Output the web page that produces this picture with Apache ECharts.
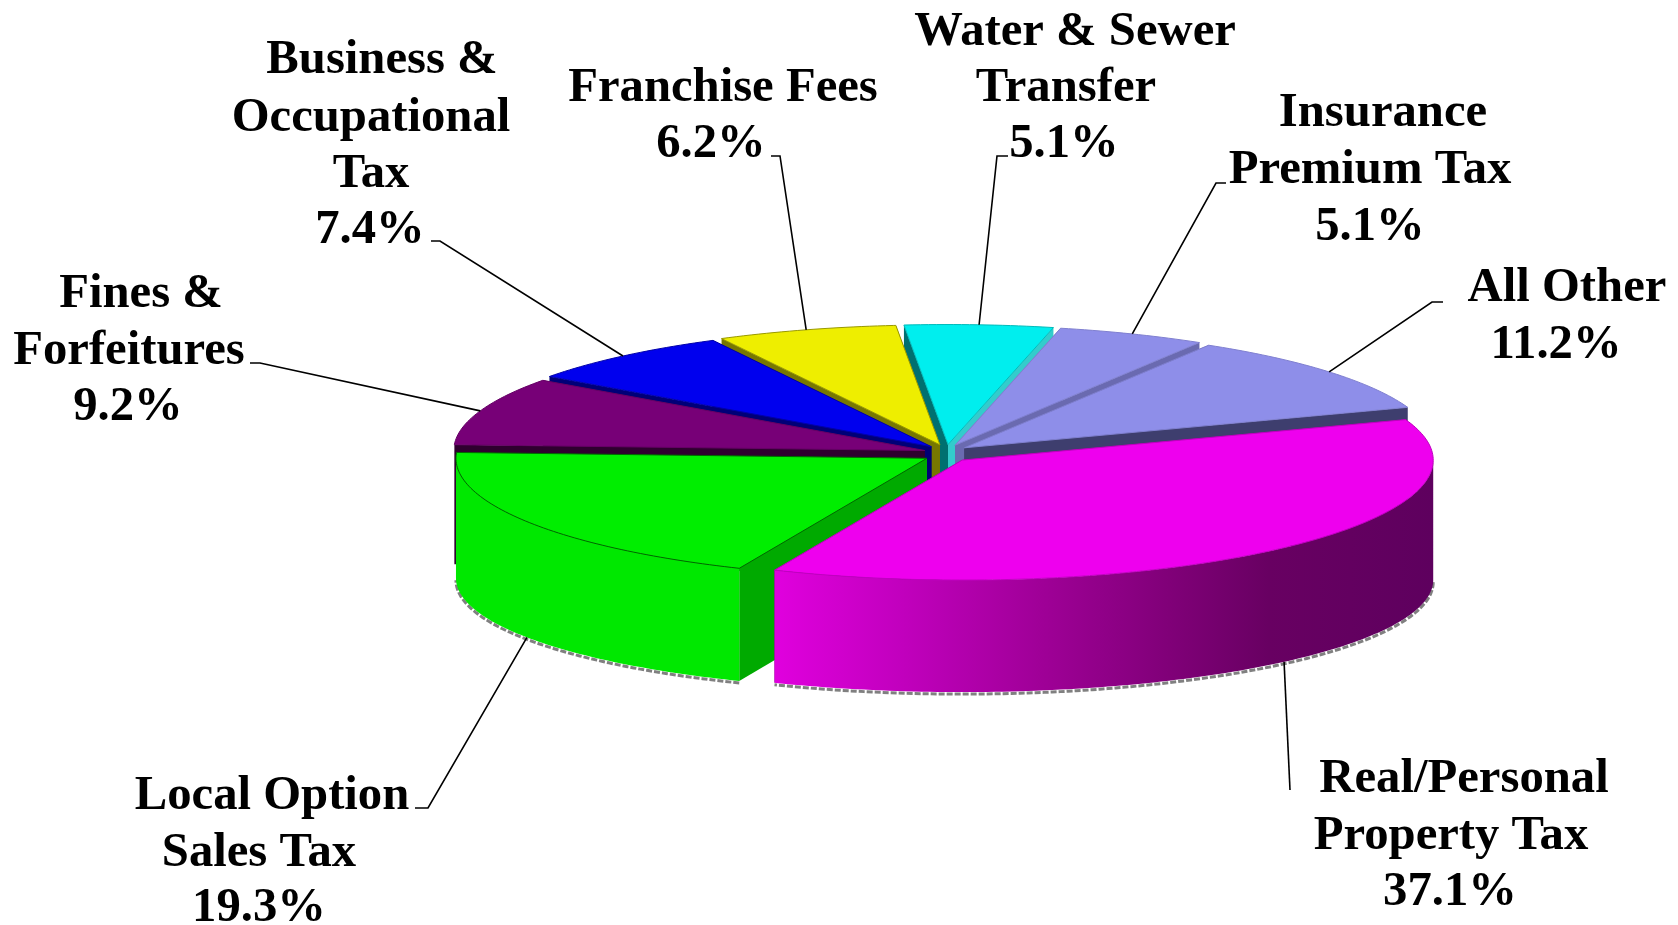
<!DOCTYPE html>
<html>
<head>
<meta charset="utf-8">
<style>html,body{margin:0;padding:0;background:#fff}#main{width:1678px;height:925px}</style>
<script src="https://cdn.jsdelivr.net/npm/echarts@6/dist/echarts.min.js"></script>
</head>
<body>
<div id="main"></div>
<script>
// slices run clockwise on screen, starting at the upper right
var categories = ['Real/Personal Property Tax', 'Local Option Sales Tax', 'Fines & Forfeitures', 'Business & Occupational Tax', 'Franchise Fees', 'Water & Sewer Transfer', 'Insurance Premium Tax', 'All Other'];
var values = [37.1, 19.3, 9.2, 7.4, 6.2, 5.1, 5.1, 11.2];
var labelLines = [
  ['Real/Personal', 'Property Tax'],
  ['Local Option', 'Sales Tax'],
  ['Fines &', 'Forfeitures'],
  ['Business &', 'Occupational', 'Tax'],
  ['Franchise Fees'],
  ['Water & Sewer', 'Transfer'],
  ['Insurance', 'Premium Tax'],
  ['All Other']
];

var topColors = ['#ee00ee', '#00ee00', '#770077', '#0000ee', '#eeee00', '#00eeee', '#8e8ee9', '#8e8ee9'];
var sideColors = ['#660066', '#00aa00', '#2f002f', '#000077', '#777700', '#33cccc', '#6a6ab0', '#3e3e6e'];
var edgeColors = ['#c000c0', '#006600', '#660066', '#0000aa', '#999900', '#00bbbb', '#8080d0', '#8080d0'];
var startFaceColors = ['#660066', '#00aa00', '#2f002f', '#000077', '#777700', '#007070', '#6a6ab0', '#3e3e6e'];

// label line centres (x, y) and leader elbows, page pixels
var labelPos = [
  [[1464, 779], [1451, 836], [1450, 892]],
  [[272, 796], [259, 853], [259, 908]],
  [[141, 294], [129, 351], [128, 407]],
  [[382, 60], [371, 118], [371, 174], [370, 230]],
  [[723, 88], [711, 144]],
  [[1075, 32], [1066, 88], [1064, 144]],
  [[1383, 113], [1370, 170], [1370, 227]],
  [[1567, 288], [1556, 345]]
];
var leaderElbows = [
  [[1290, 790]],
  [[428, 808], [415, 808]],
  [[260, 363], [250, 363]],
  [[440, 241], [431, 241]],
  [[780, 156], [771, 156]],
  [[997, 156], [1008, 156]],
  [[1216, 183], [1226, 183]],
  [[1432, 302], [1443, 302]]
];

var cx = 946.5, cy = 453.5, rx = 471, ry = 120;
var depthFront = 112, depthSide = 120;
var explodeX = 23, explodeY = 9;
var startAngle = 340.3;
var degPerUnit = 3.59;
var FONT = '"Liberation Serif", "Times New Roman", serif';

var slices = [];
var acc = startAngle;
values.forEach(function (v, i) {
  // the printed shares add up to a bit over 100, the last slice closes the circle
  var end = Math.min(acc + v * degPerUnit, startAngle + 360);
  var mid = (acc + end) / 2 * Math.PI / 180;
  slices.push({
    i: i, a0: acc, a1: end, mid: mid,
    x: cx + explodeX * Math.cos(mid),
    y: cy + explodeY * Math.sin(mid)
  });
  acc = end;
});
// back slices are painted first
var drawOrder = slices.slice().sort(function (a, b) { return a.y - b.y; }).map(function (s) { return s.i; });

function depthAt(deg) {
  return depthSide - (depthSide - depthFront) * Math.abs(Math.sin(deg * Math.PI / 180));
}
function rim(s, deg, lower, extra) {
  var t = deg * Math.PI / 180;
  return [s.x + rx * Math.cos(t), s.y + ry * Math.sin(t) + (lower ? depthAt(deg) : 0) + (extra || 0)];
}
function arc(s, from, to, lower, extra) {
  var pts = [];
  for (var d = from; d < to; d += 1) pts.push(rim(s, d, lower, extra));
  pts.push(rim(s, to, lower, extra));
  return pts;
}
function face(s, deg) {
  return [[s.x, s.y], rim(s, deg), rim(s, deg, true), [s.x, s.y + depthFront]];
}

var pinkWall = new echarts.graphic.LinearGradient(0, 0, 1, 0, [
  { offset: 0, color: '#e000de' },
  { offset: 0.2, color: '#c000bc' },
  { offset: 0.4, color: '#a00098' },
  { offset: 0.6, color: '#800078' },
  { offset: 0.75, color: '#680062' },
  { offset: 1, color: '#5e005e' }
]);

function renderSlice(params, api) {
  var i = api.value(0);
  var s = slices[i];
  var children = [
    { type: 'polygon', shape: { points: face(s, s.a0) }, style: { fill: startFaceColors[i] } },
    { type: 'polygon', shape: { points: face(s, s.a1) }, style: { fill: sideColors[i] } }
  ];
  // only the front half of the outer wall can be seen (angles run from 340 to 700 here)
  var from = Math.max(s.a0, 360), to = Math.min(s.a1, 540);
  if (to > from) {
    var bottom = arc(s, from, to, true);
    children.push(
      { type: 'polyline', shape: { points: arc(s, from, to, true, 2) }, style: { fill: null, stroke: '#808080', lineWidth: 3, lineDash: [6, 2] } },
      { type: 'polygon', shape: { points: arc(s, from, to, false).concat(bottom.reverse()) }, style: { fill: i === 0 ? pinkWall : '#00e800' } }
    );
  }
  children.push({ type: 'polygon', shape: { points: [[s.x, s.y]].concat(arc(s, s.a0, s.a1, false)) }, style: { fill: topColors[i], stroke: edgeColors[i], lineWidth: 1 } });
  return { type: 'group', children: children };
}

function renderLabel(params, api) {
  var i = api.value(0);
  var s = slices[i];
  var midDeg = s.mid * 180 / Math.PI;
  // front slices take the leader from the bottom of the wall
  var anchor = rim(s, midDeg, Math.sin(s.mid) > 0);
  var children = [{
    type: 'polyline',
    shape: { points: [anchor].concat(leaderElbows[i]) },
    style: { fill: null, stroke: '#000', lineWidth: 1.6 }
  }];
  var lines = labelLines[i].concat([values[i].toFixed(1) + '%']);
  lines.forEach(function (txt, k) {
    children.push({
      type: 'text',
      style: {
        text: txt, x: labelPos[i][k][0], y: labelPos[i][k][1],
        fill: '#000', font: 'bold 48.7px ' + FONT,
        align: 'center', verticalAlign: 'middle'
      }
    });
  });
  return { type: 'group', children: children };
}

var chart = echarts.init(document.getElementById('main'));
chart.setOption({
  animation: false,
  backgroundColor: '#fff',
  series: [
    { type: 'custom', coordinateSystem: 'none', silent: true, z: 2, renderItem: renderSlice, data: drawOrder.map(function (i) { return [i, values[i]]; }) },
    { type: 'custom', coordinateSystem: 'none', silent: true, z: 3, renderItem: renderLabel, data: categories.map(function (c, i) { return { name: c, value: [i, values[i]] }; }) }
  ]
});
</script>
</body>
</html>
